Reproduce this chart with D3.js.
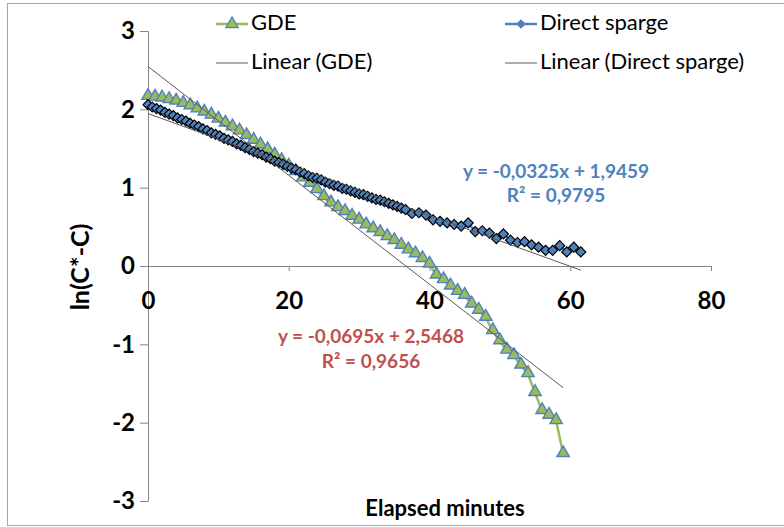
<!DOCTYPE html>
<html>
<head>
<meta charset="utf-8">
<script src="https://cdn.jsdelivr.net/npm/d3@7"></script>
<style>
  html, body { margin: 0; padding: 0; background: #ffffff; }
  svg { display: block; font-family: Lato, "Open Sans", sans-serif; }
</style>
</head>
<body>
<svg id="chart" width="784" height="527"></svg>
<script>
// Series names
const seriesNames = ["GDE", "Direct sparge"];

// GDE: minutes and ln(C*-C)
const gdeMinutes = [0,1,2,3,4,5,6,7,8,9,10,11,12,13,14,15,16,17,18,19,20,21,22,23,24,25,26,27,28,29,30,31,32,33,34,35,36,37,38,39,40,41,42,43,44,45,46,47,48,49,50,51,52,53,54,55,56,57,58,59];
const gdeLn = [2.16,2.15,2.14,2.12,2.10,2.07,2.04,2.00,1.96,1.92,1.87,1.82,1.77,1.72,1.66,1.60,1.54,1.48,1.41,1.34,1.27,1.20,1.12,1.05,0.97,0.88,0.80,0.74,0.69,0.63,0.58,0.52,0.47,0.42,0.37,0.32,0.26,0.20,0.15,0.09,0.02,-0.12,-0.18,-0.26,-0.33,-0.38,-0.49,-0.57,-0.66,-0.83,-0.96,-1.08,-1.15,-1.27,-1.38,-1.62,-1.85,-1.91,-1.98,-2.40];

// Direct sparge: minutes and ln(C*-C)
const spargeMinutes = [0,0.6,1.2,1.8,2.4,3.0,3.6,4.2,4.8,5.4,6.0,6.6,7.2,7.8,8.4,9.0,9.6,10.2,10.8,11.4,12.0,12.6,13.2,13.8,14.4,15.0,15.6,16.2,16.8,17.4,18.0,18.6,19.2,19.8,20.4,21.0,21.6,22.2,22.8,23.4,24.0,24.6,25.2,25.8,26.4,27.0,27.6,28.2,28.8,29.4,30.0,30.6,31.2,31.8,32.4,33.0,33.6,34.2,34.8,35.4,36.0,36.6,37.5,38.5,39.5,40.5,41.5,42.5,43.5,44.5,45.5,46.5,47.5,48.5,49.5,50.5,51.5,52.5,53.5,54.5,55.5,56.5,57.5,58.5,59.5,60.5,61.5];
const spargeLn = [2.06,2.03,2.01,1.99,1.96,1.94,1.92,1.89,1.87,1.85,1.82,1.80,1.78,1.75,1.73,1.70,1.68,1.66,1.63,1.61,1.59,1.56,1.54,1.51,1.49,1.46,1.44,1.42,1.39,1.37,1.34,1.32,1.30,1.27,1.25,1.23,1.20,1.18,1.15,1.13,1.12,1.10,1.07,1.05,1.03,1.02,0.99,0.98,0.96,0.94,0.92,0.91,0.89,0.87,0.85,0.84,0.82,0.80,0.78,0.76,0.74,0.72,0.67,0.68,0.65,0.59,0.57,0.55,0.53,0.51,0.55,0.44,0.45,0.42,0.35,0.41,0.33,0.30,0.31,0.27,0.24,0.20,0.20,0.26,0.18,0.24,0.18];

// Linear fits: [slope, intercept, R²]
const gdeFit = [-0.0695, 2.5468, 0.9656];
const spargeFit = [-0.0325, 1.9459, 0.9795];

// Axis ticks
const xTicks = [0, 20, 40, 60, 80];
const yTicks = [-3, -2, -1, 0, 1, 2, 3];

const svg = d3.select("#chart");
const green = "#9BBB59", blue = "#4F81BD", red = "#C0504D", axisGray = "#868686", trendGray = "#5a5a5a";

// chart frame
svg.append("rect")
  .attr("x", 7.5).attr("y", 3.5).attr("width", 800).attr("height", 522)
  .attr("fill", "#fff").attr("stroke", "#a6a6a6").attr("stroke-width", 1);

const x = d3.scaleLinear().domain([0, 80]).range([148, 711]);
const y = d3.scaleLinear().domain([-3, 3]).range([501, 31]);
const plain = d => String(d);

// y axis along x = 0
const yAxis = d3.axisLeft(y).tickValues(yTicks).tickSize(8).tickPadding(5).tickFormat(plain);
const gy = svg.append("g").attr("transform", `translate(${x(0)},0)`).call(yAxis);
gy.select(".domain").attr("stroke", axisGray);
gy.selectAll(".tick line").attr("stroke", axisGray);
gy.selectAll(".tick text").attr("font-size", 24).attr("font-weight", "bold").attr("fill", "#000")
  .attr("font-family", "Lato, sans-serif");

// x axis along y = 0
const xAxis = d3.axisBottom(x).tickValues(xTicks).tickSize(5).tickPadding(21).tickSizeOuter(0).tickFormat(plain);
const gx = svg.append("g").attr("transform", `translate(0,${y(0)})`).call(xAxis);
gx.select(".domain").attr("stroke", axisGray);
gx.selectAll(".tick line").attr("stroke", axisGray);
gx.selectAll(".tick text").attr("font-size", 24).attr("font-weight", "bold").attr("fill", "#000")
  .attr("font-family", "Lato, sans-serif");

// axis titles
svg.append("text").attr("x", 445).attr("y", 516).attr("text-anchor", "middle")
  .attr("font-size", 22).attr("font-weight", "bold").text("Elapsed minutes");
svg.append("text").attr("transform", "translate(89,267) rotate(-90)").attr("text-anchor", "middle")
  .attr("font-size", 25).attr("font-weight", "bold").text("ln(C*-C)");

const gde = gdeMinutes.map((m, i) => [m, gdeLn[i]]);
const sparge = spargeMinutes.map((m, i) => [m, spargeLn[i]]);
const line = d3.line().x(d => x(d[0])).y(d => y(d[1]));

const tri = d3.symbol().type(d3.symbolTriangle).size(66);
const dia = d3.symbol().type(d3.symbolSquare).size(50);

// GDE series
svg.append("path").attr("d", line(gde)).attr("fill", "none").attr("stroke", green).attr("stroke-width", 2.5);
svg.append("g").selectAll("path").data(gde).join("path")
  .attr("transform", d => `translate(${x(d[0])},${y(d[1]) - 1})`)
  .attr("d", tri).attr("fill", green).attr("stroke", blue).attr("stroke-width", 1.4);

// Direct sparge series
svg.append("path").attr("d", line(sparge)).attr("fill", "none").attr("stroke", blue).attr("stroke-width", 2.5);
svg.append("g").selectAll("path").data(sparge).join("path")
  .attr("transform", d => `translate(${x(d[0])},${y(d[1])}) rotate(45)`)
  .attr("d", dia).attr("fill", blue).attr("stroke", "#000").attr("stroke-width", 1.2);

// trendlines over each series' minute range
function trend(fit, xs) {
  const [a, b] = d3.extent(xs);
  return [[a, fit[0] * a + fit[1]], [b, fit[0] * b + fit[1]]];
}
[[gdeFit, gdeMinutes], [spargeFit, spargeMinutes]].forEach(([fit, xs]) => {
  svg.append("path").attr("d", line(trend(fit, xs))).attr("fill", "none")
    .attr("stroke", trendGray).attr("stroke-width", 1);
});

// trendline equations
const num = v => d3.format(".4f")(Math.abs(v)).replace(".", ",");
function eqLabel(fit, color, cx, cy1, cy2) {
  svg.append("text").attr("x", cx).attr("y", cy1).attr("text-anchor", "middle").attr("dominant-baseline", "middle")
    .attr("font-size", 19).attr("font-weight", "bold").attr("fill", color)
    .text(`y = ${fit[0] < 0 ? "-" : ""}${num(fit[0])}x + ${num(fit[1])}`);
  svg.append("text").attr("x", cx).attr("y", cy2).attr("text-anchor", "middle").attr("dominant-baseline", "middle")
    .attr("font-size", 19).attr("font-weight", "bold").attr("fill", color)
    .text(`R² = ${num(fit[2])}`);
}
eqLabel(spargeFit, blue, 556, 173, 197);
eqLabel(gdeFit, red, 371, 338, 363);

// legend
const legend = [
  { x: 216, y: 24, label: seriesNames[0], stroke: green, w: 2.5, sym: tri, fill: green, ms: blue, rot: 0 },
  { x: 505, y: 24, label: seriesNames[1], stroke: blue, w: 2.5, sym: d3.symbol().type(d3.symbolSquare).size(32), fill: blue, ms: blue, rot: 45 },
  { x: 216, y: 63, label: `Linear (${seriesNames[0]})`, stroke: trendGray, w: 1 },
  { x: 505, y: 63, label: `Linear (${seriesNames[1]})`, stroke: trendGray, w: 1 }
];
legend.forEach(e => {
  const g = svg.append("g").attr("transform", `translate(${e.x},${e.y})`);
  g.append("line").attr("x1", 0).attr("x2", 32).attr("stroke", e.stroke).attr("stroke-width", e.w);
  if (e.sym) g.append("path").attr("transform", `translate(16,0) rotate(${e.rot})`).attr("d", e.sym)
    .attr("fill", e.fill).attr("stroke", e.ms).attr("stroke-width", 1.2);
  g.append("text").attr("x", 35).attr("dominant-baseline", "middle").attr("font-size", 22)
    .attr("fill", "#000").text(e.label);
});
</script>
</body>
</html>
